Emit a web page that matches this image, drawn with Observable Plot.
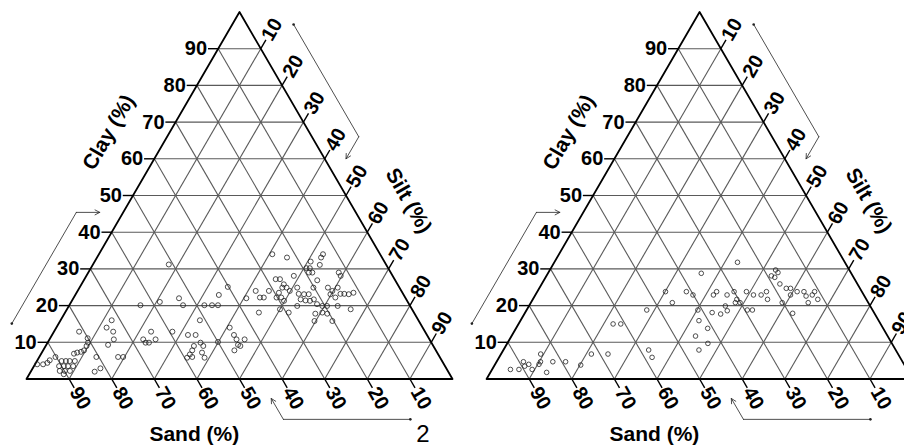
<!DOCTYPE html>
<html><head><meta charset="utf-8">
<script src="https://cdn.jsdelivr.net/npm/d3@7"></script>
<script src="https://cdn.jsdelivr.net/npm/@observablehq/plot@0.6"></script>
<style>html,body{margin:0;padding:0;background:#fff}#chart svg{display:block}</style>
</head><body><div id="chart"></div>
<script>
// ---- data (percent values) ----
const tickValues = [10, 20, 30, 40, 50, 60, 70, 80, 90];
const axisTitles = ["Clay (%)", "Silt (%)", "Sand (%)"];
const figureNumber = "2";

// left diagram
const clayA = [4.0,4.0,4.4,5.1,6.0,4.9,4.9,4.9,4.9,3.5,3.5,3.5,3.5,2.2,2.2,2.2,1.3,6.9,7.2,7.4,7.8,9.0,9.9,11.1,12.9,6.0,2.0,2.9,14.0,16.0,12.9,10.8,9.3,6.0,6.0,
  20.1,21.0,31.2,22.0,20.1,20.1,20.1,20.1,22.9,25.1,22.0,24.0,18.1,16.0,12.9,12.9,10.8,9.9,9.9,10.8,12.0,12.0,9.9,9.0,9.0,7.8,6.7,5.8,6.0,7.2,5.8,10.1,14.0,12.0,10.8,10.8,9.3,9.0,7.8,
  34.0,33.1,32.0,31.1,33.1,34.0,30.2,30.2,29.0,29.0,29.0,28.1,26.9,28.1,27.2,27.2,25.8,24.9,24.9,24.0,23.5,22.2,22.2,21.3,
  22.2,22.2,24.0,24.9,23.2,23.1,23.1,24.9,21.7,21.4,21.3,21.7,20.4,19.9,19.9,24.9,24.0,24.9,23.2,23.2,23.1,23.5,23.1,22.2,19.0,19.9,19.9,19.0,18.1,17.8,18.1,15.8,17.8,15.8];
const siltA = [0.5,1.9,2.7,2.9,3.8,5.8,6.8,7.7,8.9,5.9,7.0,8.0,9.2,6.7,7.9,9.1,8.1,7.7,8.3,9.1,9.6,9.6,9.5,8.8,5.9,13.4,15.0,15.9,11.8,12.0,13.9,15.1,14.5,18.5,19.7,
  16.7,20.8,17.8,24.8,26.7,31.7,33.5,34.9,33.7,34.7,40.6,41.8,45.5,32.7,27.8,22.8,22.0,23.0,23.8,24.9,31.9,33.7,35.9,37.0,34.8,35.0,35.0,34.8,35.9,37.6,38.9,39.9,40.7,42.7,43.9,45.8,45.0,45.7,44.9,
  40.7,44.6,50.7,53.3,52.6,52.6,50.6,51.4,52.6,51.8,58.8,59.7,54.8,48.7,44.9,45.9,47.5,47.6,48.6,49.8,47.5,47.6,48.7,49.8,
  43.7,44.6,44.9,51.1,52.3,53.6,54.7,54.9,53.5,54.8,55.9,56.6,58.0,59.5,60.6,58.3,59.8,60.6,62.1,63.0,64.1,65.0,59.8,61.4,66.6,63.1,53.6,50.0,52.5,58.9,60.4,59.7,61.7,63.9];

// right diagram
const clayB = [2.6,2.6,4.7,4.0,3.5,2.6,4.0,4.7,6.8,1.8,4.7,4.7,3.8,6.8,6.8,15.0,15.0,
  18.8,7.9,5.9,23.8,20.8,23.8,22.9,28.8,18.8,15.9,13.8,11.7,9.7,7.9,
  18.1,17.7,19.9,18.6,22.9,23.8,22.9,23.8,21.7,20.8,20.8,31.8,23.8,22.9,18.8,18.8,22.9,23.8,21.7,
  29.7,29.0,28.1,27.7,25.9,24.7,24.7,20.8,17.9,22.9,23.8,23.8,22.6,20.8,22.9,23.8,21.7];
const siltB = [4.3,6.3,6.3,7.9,7.2,9.4,10.3,10.3,9.3,13.2,13.2,16.2,20.2,21.2,25.1,22.2,24.0,
  28.2,34.1,35.9,30.1,33.2,35.0,37.0,36.0,40.2,41.9,45.0,43.2,47.1,45.9,
  43.9,46.1,46.1,47.2,41.8,42.1,45.0,46.2,47.9,48.0,49.1,43.0,49.1,51.2,51.8,53.0,53.0,53.8,55.1,
  53.0,53.9,52.8,53.8,55.9,58.0,59.0,59.0,62.9,59.9,61.0,62.6,63.7,65.1,65.0,65.1,66.9];

// ---- layout helpers (ternary -> plane) ----
const OFFSET = 108;   // shift of the second diagram, in ternary x units
const TL = 2.4;       // tick length in percent units
const T = (clay, silt, p) => ({x: silt + clay / 2 + p * OFFSET, y: clay});

const points = [];
clayA.forEach((c, i) => points.push({p: 0, ...T(c, siltA[i], 0)}));
clayB.forEach((c, i) => points.push({p: 1, ...T(c, siltB[i], 1)}));

const grid = [], ticks = [], border = [];
const clayLab = [], siltLab = [], sandLab = [], titles = [];
const arrowLines = [], arrowHeads = [], arrowDots = [];
// arrow paths in [clay, silt] ternary coordinates (outside the triangle)
const arrowPaths = [
  [[15.1, -11.0], [45.4, -11.0], [45.4, -5.5]],
  [[96.6, 14.4], [66.0, 45.0], [60.0, 45.0]],
  [[-11.0, 95.6], [-11.0, 65.8], [-5.3, 60.1]]
];
[0, 1].forEach(p => {
  [[0, 0], [0, 100], [100, 0], [0, 0]].forEach(([c, s]) => border.push({p, ...T(c, s, p)}));
  tickValues.forEach(v => {
    grid.push({a: T(v, 0, p), b: T(v, 100 - v, p)});
    grid.push({a: T(0, v, p), b: T(100 - v, v, p)});
    grid.push({a: T(0, 100 - v, p), b: T(100 - v, 0, p)});
    ticks.push({a: T(v, 0, p), b: T(v, -TL, p)});
    ticks.push({a: T(100 - v, v, p), b: T(100 - v + TL, v, p)});
    ticks.push({a: T(0, 100 - v, p), b: T(-TL, 100 - v + TL, p)});
    clayLab.push({...T(v, -TL - 0.2, p), t: String(v)});
    siltLab.push({...T(100 - v + TL + 0.2, v, p), t: String(v)});
    sandLab.push({...T(-TL - 0.2, 100 - v + TL + 0.2, p), t: String(v)});
  });
  titles.push({...T(67.2, -14.3, p), t: axisTitles[0], r: -60});
  titles.push({...T(48.6, 65.4, p), t: axisTitles[1], r: 60});
  titles.push({...T(-15.0, 46.9, p), t: axisTitles[2], r: 0});
  arrowPaths.forEach((path, k) => {
    const q = path.map(([c, s]) => T(c, s, p));
    arrowLines.push({id: p + "-" + k, ...q[0]}, {id: p + "-" + k, ...q[1]});
    arrowHeads.push({a: q[1], b: q[2]});
    arrowDots.push(q[0]);
  });
});
const figLabel = [{...T(-15.1, 100.6, 0), t: figureNumber}];

const font = "'Liberation Sans', Arial, sans-serif";
const chart = Plot.plot({
  width: 904, height: 448, margin: 0,
  style: {fontFamily: font, background: "#fff"},
  x: {domain: [0, 100], range: [26, 452], axis: null},
  y: {domain: [0, 100], range: [378.5, 11.5], axis: null},
  marks: [
    Plot.link(grid, {x1: d => d.a.x, y1: d => d.a.y, x2: d => d.b.x, y2: d => d.b.y, stroke: "#5a5a5a", strokeWidth: 1.1}),
    Plot.link(ticks, {x1: d => d.a.x, y1: d => d.a.y, x2: d => d.b.x, y2: d => d.b.y, stroke: "#000", strokeWidth: 1.4}),
    Plot.line(border, {x: "x", y: "y", z: "p", stroke: "#000", strokeWidth: 1.8}),
    Plot.dot(points.filter(d => d.p === 0), {x: "x", y: "y", r: 2.5, stroke: "#222", strokeWidth: 0.8, fill: "none"}),
    Plot.dot(points.filter(d => d.p === 1), {x: "x", y: "y", r: 2.3, stroke: "#222", strokeWidth: 0.8, fill: "none"}),
    Plot.text(clayLab, {x: "x", y: "y", text: "t", textAnchor: "end", fontSize: 20, fontWeight: "bold", fill: "#000"}),
    Plot.text(siltLab, {x: "x", y: "y", text: "t", textAnchor: "start", rotate: -60, fontSize: 20, fontWeight: "bold", fill: "#000"}),
    Plot.text(sandLab, {x: "x", y: "y", text: "t", textAnchor: "start", rotate: 60, fontSize: 20, fontWeight: "bold", fill: "#000"}),
    Plot.text(titles, {x: "x", y: "y", text: "t", rotate: "r", fontSize: 21, fontWeight: "bold", fill: "#000"}),
    Plot.line(arrowLines, {x: "x", y: "y", z: "id", stroke: "#222", strokeWidth: 0.8}),
    Plot.arrow(arrowHeads, {x1: d => d.a.x, y1: d => d.a.y, x2: d => d.b.x, y2: d => d.b.y, stroke: "#222", strokeWidth: 0.8, headLength: 10, headAngle: 55}),
    Plot.dot(arrowDots, {x: "x", y: "y", r: 1.3, fill: "#222"}),
    Plot.text(figLabel, {x: "x", y: "y", text: "t", fontSize: 24, fontWeight: "normal", fill: "#000"})
  ]
});
document.getElementById("chart").append(chart);
</script>
</body></html>
